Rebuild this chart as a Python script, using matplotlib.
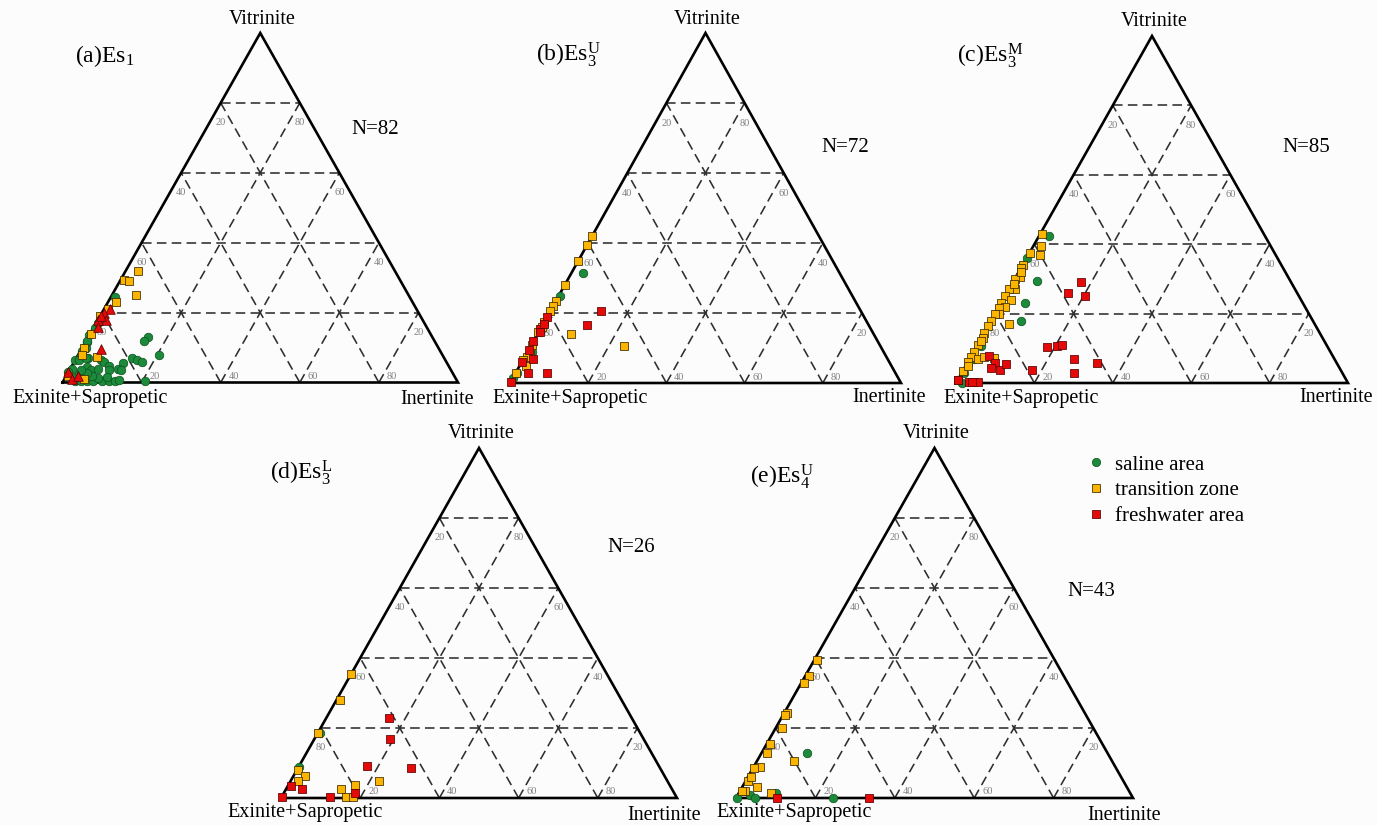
import numpy as np
import matplotlib.pyplot as plt
from matplotlib.lines import Line2D

plt.rcParams["font.family"] = ["Liberation Serif", "DejaVu Serif"]
plt.rcParams["mathtext.fontset"] = "custom"
plt.rcParams["mathtext.rm"] = "Liberation Serif"
plt.rcParams["mathtext.it"] = "Liberation Serif:italic"

# Maceral composition, each sample as (vitrinite %, inertinite %);
# exinite + sapropelic material makes up the remainder.
a_saline = [(24.5, 1), (15.5, 0.5), (13.5, 0), (11.5, 0.5), (10, 1), (7.5, 1), (6.5, 0),
            (7, 3), (13, 15), (12, 14.5), (8, 20.5), (7, 14), (6.5, 15.5), (6, 17),
            (5.5, 12.5), (6.5, 6.5), (6, 7.5), (4.7, 9.5), (4, 12), (3.5, 13), (3.5, 10),
            (4.5, 4), (3.5, 5.5), (4, 7), (4, 0.3), (3, 0), (2.5, 3), (0.5, 3), (0.3, 4.5),
            (0.3, 6), (0.3, 7.6), (0.3, 9.8), (0.3, 11.5), (0.5, 13), (0.7, 14), (0.3, 20.8),
            (1.7, 10.5), (1.2, 8.5), (2, 6.5), (12, 0.3), (6.5, 1), (7, 2.5), (2.6, 5),
            (3.5, 3), (1.7, 1.5), (17, 0.5), (9, 0.5)]
a_transition = [(32, 3), (29.3, 0.8), (29.1, 2.2), (25, 6), (23, 2), (21, 1), (19, 0),
                (14, 0.3), (10, 0.5), (8, 1), (7.4, 5), (1, 5), (2, 0.5)]
a_fresh = [(21, 1.5), (20, 0.5), (18, 2), (18, 0), (16, 1), (9.5, 5), (3, 0), (1, 2),
           (2, 3), (19, 0.3)]

b_saline = [(31.5, 3), (25, 0.3), (14.5, 0.5), (9, 1), (1.5, 0), (3, 0.2)]
b_transition = [(42, 0), (39.5, 0), (35, 0), (28, 0), (23.5, 0), (22, 0), (20.5, 0),
                (17.5, 0), (14.5, 0), (14, 8.5), (10.5, 24), (9, 0.5), (7.5, 0.5), (6.6, 0),
                (5, 1.5), (3, 0), (16, 0.3), (11, 0.2)]
b_fresh = [(20.5, 13), (16.5, 11.5), (19, 0), (15.5, 0), (14.5, 0.3), (12, 0), (7, 2.5),
           (6, 0), (3, 3), (3, 8), (0.3, 0), (17, 0.2), (9.5, 0)]

c_saline = [(42.5, 2.5), (36, 0), (29.5, 6), (23, 6), (18, 7.5), (10.7, 1), (7, 1),
            (0, 1.5), (3, 0.5)]
c_transition = [(43, 0.5), (39.5, 2), (37, 3), (37.5, 0), (34, 0), (33, 0), (30.5, 1),
                (30, 0), (27, 1.5), (27, 0), (25, 0), (24, 2), (23, 0), (22, 1.5), (21.7, 0),
                (20, 1), (19.8, 0), (18, 0), (16.5, 0), (17, 5), (14.3, 0), (13, 0.3),
                (11, 0), (9, 0), (7.5, 0), (7, 2), (7.5, 3.5), (7.3, 6), (6, 0), (3.5, 0),
                (1, 0), (5, 0.5), (12, 0.5), (28.5, 0.5), (32, 0.5)]
c_fresh = [(29, 17.5), (26, 15.5), (25, 20.5), (10.5, 18), (10.7, 20.3), (11, 21.5),
           (7, 26.5), (5.7, 33), (3, 28.7), (3.7, 17.5), (7.8, 4.5), (5.7, 7), (4.2, 6.8),
           (3.7, 9.4), (5.4, 10), (1, 0), (0.2, 3.3), (0.4, 4.5), (0.4, 5.5), (0.2, 4)]

d_saline = [(9, 0), (18.5, 0.5)]
d_transition = [(35.5, 0), (28, 1), (18.7, 0), (8, 0.4), (6.3, 3), (5, 1.7), (5, 22.3),
                (2.5, 14), (3.7, 16.8), (0.4, 16.2), (0.2, 18)]
d_fresh = [(23, 15.7), (16.8, 19), (9.2, 17), (8.7, 28.5), (3.4, 0.7), (2.6, 4), (0.3, 0),
           (0.3, 12.1), (1.5, 18)]

e_saline = [(13, 11.5), (0, 0.3), (0.9, 3), (0, 4.8), (1.5, 9.3), (0, 24.5)]
e_transition = [(39.4, 0.6), (35, 0.8), (33, 0.6), (24.4, 0.7), (23.7, 0.4), (20, 1.5),
                (15.3, 1), (13, 1.4), (10.6, 9.3), (9, 1.5), (8.7, 0.2), (5, 0.6),
                (3.2, 3.8), (2, 1.2), (2, 0.4), (1.5, 8), (6, 0.8)]
e_fresh = [(0, 10.3), (0, 33.5)]

sample_counts = [82, 72, 85, 26, 43]
titles = [r"(a)Es$_1$", r"(b)Es$_3^{\mathrm{U}}$", r"(c)Es$_3^{\mathrm{M}}$",
          r"(d)Es$_3^{\mathrm{L}}$", r"(e)Es$_4^{\mathrm{U}}$"]
group_names = ["saline area", "transition zone", "freshwater area"]
apex_label, left_label, right_label = "Vitrinite", "Exinite+Sapropetic", "Inertinite"
grid_levels = [20, 40, 60, 80]

W, H = 1377, 825
GREEN, ORANGE, RED = "#1b8a3a", "#fbb500", "#e50a0a"

# pixel layout of each diagram: triangle corners and label anchors
layout = [
    dict(bl=(62.5, 382.5), br=458, top=33, title=(75, 56), n=(375, 130),
         exi=(90, 398), ine=(400, 400)),
    dict(bl=(510, 383), br=901, top=33, title=(536, 55), n=(845, 147),
         exi=(570, 398), ine=(852, 398)),
    dict(bl=(956, 383), br=1348, top=36, title=(957, 56), n=(1306, 148),
         exi=(1021, 398), ine=(1299, 398)),
    dict(bl=(281, 798), br=677, top=448, title=(270, 473), n=(631, 548),
         exi=(305, 812), ine=(627, 815)),
    dict(bl=(736, 798), br=1133, top=448, title=(750, 477), n=(1091, 592),
         exi=(794, 813), ine=(1087, 815)),
]
panel_data = [(a_saline, a_transition, a_fresh), (b_saline, b_transition, b_fresh),
              (c_saline, c_transition, c_fresh), (d_saline, d_transition, d_fresh),
              (e_saline, e_transition, e_fresh)]
fresh_markers = ["^", "s", "s", "s", "s"]


def fx(x):
    return x / W


def fy(y):
    return 1 - y / H


def to_xy(samples):
    arr = np.asarray(samples, dtype=float).reshape(-1, 2) / 100.0
    v, i = arr[:, 0], arr[:, 1]
    return i + v / 2, v


fig = plt.figure(figsize=(W / 100, H / 100), dpi=100)
fig.patch.set_facecolor("#fcfcfc")

grid_style = dict(color="#2e2e2e", lw=1.15, ls=(0, (6, 3.3)), zorder=1)
tick_style = dict(fontsize=7.5, color="#808080", ha="center", va="center",
                  textcoords="offset pixels")

for k, (lay, groups) in enumerate(zip(layout, panel_data)):
    x0, y0 = lay["bl"]
    ax = fig.add_axes([fx(x0), fy(y0), (lay["br"] - x0) / W, (y0 - lay["top"]) / H])
    ax.set_xlim(0, 1)
    ax.set_ylim(0, 1)
    ax.axis("off")

    # dashed ternary grid
    for g in grid_levels:
        t = g / 100
        ax.plot([t / 2, 1 - t / 2], [t, t], **grid_style)
        ax.plot([t, t + (1 - t) / 2], [0, 1 - t], **grid_style)
        ax.plot([1 - t, (1 - t) / 2], [0, 1 - t], **grid_style)
        ax.annotate(str(100 - g), (t / 2, t), xytext=(0, -20), **tick_style)
        ax.annotate(str(g), (1 - t / 2, t), xytext=(0, -20), **tick_style)
        ax.annotate(str(g), (t, 0), xytext=(13, 6), **tick_style)

    ax.plot([0, 1, 0.5, 0], [0, 0, 1, 0], color="black", lw=1.9, zorder=2,
            solid_joinstyle="miter", clip_on=False)

    saline, transition, fresh = groups
    sx, sy = to_xy(saline)
    ax.scatter(sx, sy, s=38, marker="o", color=GREEN, edgecolors="#0d4f1e",
               linewidths=0.5, zorder=3, clip_on=False)
    tx, ty = to_xy(transition)
    ax.scatter(tx, ty, s=38, marker="s", color=ORANGE, edgecolors="#3a2a00",
               linewidths=0.55, zorder=4, clip_on=False)
    rx, ry = to_xy(fresh)
    ax.scatter(rx, ry, s=48 if fresh_markers[k] == "^" else 38, marker=fresh_markers[k],
               color=RED, edgecolors="#5a0000", linewidths=0.55, zorder=5, clip_on=False)

    ax.annotate(apex_label, (0.5, 1), xytext=(2, 14), textcoords="offset pixels",
                ha="center", va="center", fontsize=14.5)
    fig.text(fx(lay["exi"][0]), fy(lay["exi"][1]), left_label, ha="center",
             va="center", fontsize=14.5)
    fig.text(fx(lay["ine"][0]), fy(lay["ine"][1]), right_label, ha="left",
             va="center", fontsize=14.5)
    fig.text(fx(lay["title"][0]), fy(lay["title"][1]), titles[k], ha="left",
             va="center", fontsize=17)
    fig.text(fx(lay["n"][0]), fy(lay["n"][1]), f"N={sample_counts[k]}", ha="center",
             va="center", fontsize=15)

handles = [
    Line2D([], [], ls="", marker="o", ms=6, color=GREEN, mec="#0d4f1e", mew=0.5),
    Line2D([], [], ls="", marker="s", ms=6, color=ORANGE, mec="#3a2a00", mew=0.55),
    Line2D([], [], ls="", marker="s", ms=6, color=RED, mec="#5a0000", mew=0.55),
]
fig.legend(handles, group_names, loc="upper left", bbox_to_anchor=(fx(1087), fy(455)),
           frameon=False, fontsize=15, handlelength=0.9, handletextpad=0.45,
           labelspacing=0.3, borderpad=0, borderaxespad=0)

fig.savefig("out.png", dpi=100, facecolor=fig.get_facecolor())
